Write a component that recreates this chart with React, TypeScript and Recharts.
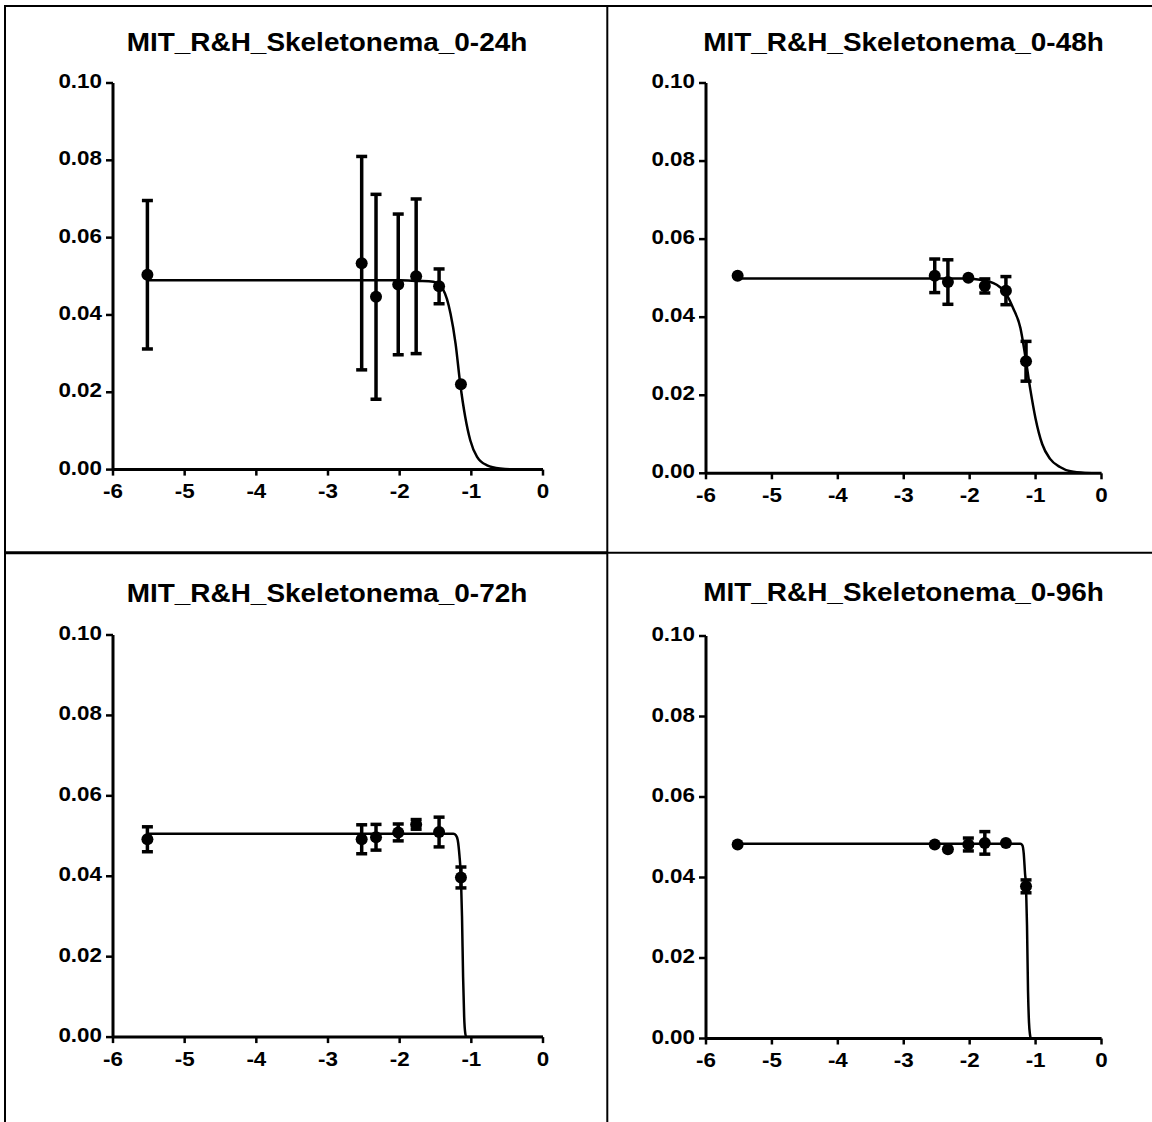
import React from 'react';
import { ComposedChart, Line, Scatter, XAxis, YAxis, ErrorBar } from 'recharts';

// log concentration (x) shared by every panel
const logConc = [-5.52, -2.53, -2.33, -2.02, -1.77, -1.45, -1.145];

const xTicks = [-6, -5, -4, -3, -2, -1, 0];
const yTicks = [0, 0.02, 0.04, 0.06, 0.08, 0.1];

const titles = [
  'MIT_R&H_Skeletonema_0-24h',
  'MIT_R&H_Skeletonema_0-48h',
  'MIT_R&H_Skeletonema_0-72h',
  'MIT_R&H_Skeletonema_0-96h',
];

// means and SD per time point
const mean24 = [0.0504, 0.0534, 0.0447, 0.0479, 0.05, 0.0474, 0.0221];
const sd24 = [0.0192, 0.0276, 0.0265, 0.0182, 0.02, 0.0045, 0];
const mean48 = [0.0506, 0.0506, 0.049, 0.0501, 0.048, 0.0468, 0.0287];
const sd48 = [0, 0.0043, 0.0057, 0, 0.0018, 0.0036, 0.0051];
const mean72 = [0.0492, 0.0492, 0.0497, 0.0509, 0.0529, 0.051, 0.0397];
const sd72 = [0.0031, 0.0036, 0.0032, 0.0021, 0.0012, 0.0037, 0.0026];
const mean96 = [0.0482, 0.0482, 0.047, 0.0482, 0.0486, 0.0486, 0.0378];
const sd96 = [0, 0, 0, 0.0016, 0.0028, 0, 0.0016];

// fitted curves
const fit24X = [-5.52, -2.0, -1.75, -1.53, -1.39, -1.29, -1.22, -1.155, -1.085, -1.015, -0.92, -0.78, -0.6, -0.3, 0];
const fit24Y = [0.049, 0.049, 0.0488, 0.0486, 0.0464, 0.0403, 0.0326, 0.0222, 0.0136, 0.0076, 0.0033, 0.0011, 0.0003, 0, 0];
const fit48X = [-5.52, -2.1, -1.84, -1.59, -1.44, -1.34, -1.23, -1.16, -1.08, -1.0, -0.9, -0.78, -0.63, -0.47, -0.25, 0];
const fit48Y = [0.0499, 0.0499, 0.0496, 0.0483, 0.0458, 0.0423, 0.0372, 0.0304, 0.0215, 0.014, 0.0075, 0.0037, 0.0016, 0.0005, 0.0001, 0];
const fit72X = [-5.54, -1.5, -1.25, -1.215, -1.19, -1.165, -1.145, -1.13, -1.115, -1.1, -1.085, -1.07, 0];
const fit72Y = [0.0506, 0.0506, 0.0506, 0.0502, 0.049, 0.045, 0.0397, 0.03, 0.015, 0.005, 0.001, 0, 0];
const fit96X = [-5.53, -1.5, -1.23, -1.2, -1.18, -1.16, -1.145, -1.13, -1.115, -1.1, -1.085, -1.07, 0];
const fit96Y = [0.0484, 0.0484, 0.0484, 0.048, 0.046, 0.041, 0.0378, 0.028, 0.012, 0.004, 0.001, 0, 0];

const FONT = "'Liberation Sans', Arial, Helvetica, sans-serif";

const points = (mean: number[], sd: number[]) =>
  logConc.map((x, i) => ({ x, y: mean[i], sd: sd[i] }));
const curve = (xs: number[], ys: number[]) => xs.map((x, i) => ({ x, y: ys[i] }));

const panels = [
  { title: titles[0], pts: points(mean24, sd24), fit: curve(fit24X, fit24Y), box: [112.7, 82.7, 542.7, 469.3], tx: 327, ty: 51 },
  { title: titles[1], pts: points(mean48, sd48), fit: curve(fit48X, fit48Y), box: [705.8, 82.7, 1101.3, 473], tx: 903.5, ty: 51 },
  { title: titles[2], pts: points(mean72, sd72), fit: curve(fit72X, fit72Y), box: [112.7, 635.3, 542.7, 1037.4], tx: 327, ty: 601.5 },
  { title: titles[3], pts: points(mean96, sd96), fit: curve(fit96X, fit96Y), box: [705.8, 636.3, 1101.3, 1038.8], tx: 903.5, ty: 601 },
];

const ML = 90;
const MT = 12;
const MR = 12;
const MB = 50;

const YTick = (props: any) => {
  const { x, y, payload } = props;
  return (
    <g transform={`translate(${x},${y})`}>
      <text transform="scale(1.12,1)" x={0} y={5} textAnchor="end" fontSize={20} fontWeight="bold" fontFamily={FONT} fill="#000">
        {Number(payload.value).toFixed(2)}
      </text>
    </g>
  );
};

const XTick = (props: any) => {
  const { x, y, payload } = props;
  return (
    <g transform={`translate(${x},${y})`}>
      <text transform="scale(1.12,1)" x={0} y={18.5} textAnchor="middle" fontSize={20} fontWeight="bold" fontFamily={FONT} fill="#000">
        {payload.value}
      </text>
    </g>
  );
};

const Dot = (p: any) => <circle cx={p.cx} cy={p.cy} r={6} fill="#000" />;

function Panel({ p }: { p: (typeof panels)[number] }) {
  const [l, t, r, b] = p.box;
  const w = r - l + ML + MR;
  const h = b - t + MT + MB;
  return (
    <div style={{ position: 'absolute', left: l - ML, top: t - MT, width: w, height: h }}>
      <ComposedChart width={w} height={h} margin={{ top: MT, right: MR, left: 0, bottom: 0 }}>
        <XAxis
          type="number"
          dataKey="x"
          domain={[-6, 0]}
          ticks={xTicks}
          interval={0}
          height={MB}
          tickSize={6}
          tickMargin={4}
          axisLine={{ stroke: '#000', strokeWidth: 3 }}
          tickLine={{ stroke: '#000', strokeWidth: 2.5 }}
          tick={<XTick />}
          allowDataOverflow
        />
        <YAxis
          type="number"
          domain={[0, 0.1]}
          ticks={yTicks}
          interval={0}
          width={ML}
          tickSize={7}
          tickMargin={4}
          axisLine={{ stroke: '#000', strokeWidth: 3 }}
          tickLine={{ stroke: '#000', strokeWidth: 2.5 }}
          tick={<YTick />}
          allowDataOverflow
        />
        <Line
          data={p.fit}
          dataKey="y"
          type="monotone"
          dot={false}
          activeDot={false}
          stroke="#000"
          strokeWidth={2.5}
          isAnimationActive={false}
        />
        <Scatter data={p.pts} dataKey="y" shape={Dot} isAnimationActive={false}>
          <ErrorBar dataKey="sd" direction="y" width={5.5} strokeWidth={3.5} stroke="#000" isAnimationActive={false} />
        </Scatter>
      </ComposedChart>
    </div>
  );
}

export default function App() {
  return (
    <div style={{ position: 'absolute', left: 0, top: 0, width: 1152, height: 1122, background: '#fff', overflow: 'hidden' }}>
      {panels.map((p) => (
        <Panel key={p.title} p={p} />
      ))}
      <svg width={1152} height={1122} style={{ position: 'absolute', left: 0, top: 0, pointerEvents: 'none' }}>
        <line x1={4} y1={6} x2={1152} y2={6} stroke="#000" strokeWidth={2} />
        <line x1={5} y1={5} x2={5} y2={1122} stroke="#000" strokeWidth={2} />
        <line x1={607.3} y1={5} x2={607.3} y2={1122} stroke="#000" strokeWidth={2} />
        <line x1={4} y1={552.7} x2={607} y2={552.7} stroke="#000" strokeWidth={3} />
        <line x1={607} y1={552.8} x2={1152} y2={552.8} stroke="#000" strokeWidth={2} />
        {panels.map((p) => (
          <g key={p.title} transform={`translate(${p.tx},${p.ty}) scale(1.075,1)`}>
            <text x={0} y={0} textAnchor="middle" fontSize={26} fontWeight="bold" fontFamily={FONT} fill="#000">
              {p.title}
            </text>
          </g>
        ))}
      </svg>
    </div>
  );
}
